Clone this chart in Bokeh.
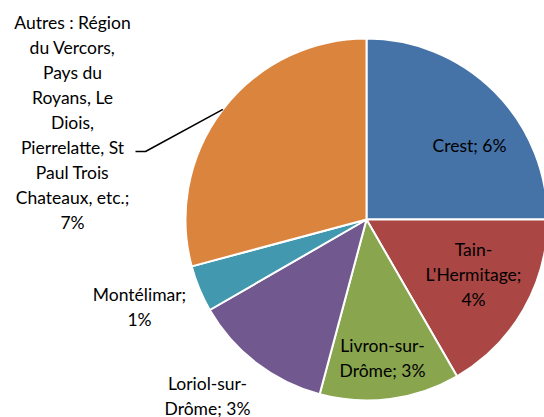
import math
from bokeh.plotting import figure
from bokeh.models import Range1d, ColumnDataSource
from bokeh.core.properties import value
from bokeh.embed import file_html
from bokeh.resources import INLINE

# ---- data ----
labels = ["Crest", "Tain-L'Hermitage", "Livron-sur-Drôme", "Loriol-sur-Drôme", "Montélimar",
          "Autres : Région du Vercors, Pays du Royans, Le Diois, Pierrelatte, St Paul Trois Chateaux, etc."]
values = [6, 4, 3, 3, 1, 7]
label_texts = [
    ["Crest; 6%"],
    ["Tain-", "L'Hermitage;", "4%"],
    ["Livron-sur-", "Drôme; 3%"],
    ["Loriol-sur-", "Drôme; 3%"],
    ["Montélimar;", "1%"],
    ["Autres : Région", "du Vercors,", "Pays du", "Royans, Le", "Diois,", "Pierrelatte, St",
     "Paul Trois", "Chateaux, etc.;", "7%"],
]
colors = ["#4572A7", "#AA4643", "#89A54E", "#71588F", "#4198AF", "#DB843D"]

# ---- layout (image pixel coordinates; y measured from top) ----
W, H = 544, 417
IMG_H = 417
CX, CY, R = 366, 219, 181
label_pos = [(469, 145), (473, 274), (382, 357.5), (207, 395), (139, 306), (72, 121.5)]
LINE_H = 25
FONT = "Lato"
FSIZE = "17.5px"

def fy(y):
    return IMG_H - y

p = figure(width=W, height=H, output_backend="svg", toolbar_location=None,
           x_range=Range1d(0, W), y_range=Range1d(IMG_H - H, IMG_H),
           min_border=0, outline_line_color=None)
p.axis.visible = False
p.grid.visible = False
p.background_fill_color = "white"

total = sum(values)
starts, ends = [], []
cum = 0
for v in values:
    starts.append(math.pi / 2 - cum / total * 2 * math.pi)
    cum += v
    ends.append(math.pi / 2 - cum / total * 2 * math.pi)

src = ColumnDataSource(dict(start=starts, end=ends, color=colors))
p.wedge(x=CX, y=fy(CY), radius=R, start_angle="start", end_angle="end", direction="clock",
        fill_color="color", line_color="white", line_width=2, source=src)

# leader line for "Autres"
mid = (starts[5] + ends[5]) / 2
ex, ey = CX + R * math.cos(mid), fy(CY) + R * math.sin(mid)
p.line(x=[135, 145, ex], y=[fy(151), fy(151), ey], line_color="black", line_width=1.5)

xs, ys, ts = [], [], []
for lines, (lx, ly) in zip(label_texts, label_pos):
    n = len(lines)
    for i, t in enumerate(lines):
        xs.append(lx)
        ys.append(fy(ly + (i - (n - 1) / 2) * LINE_H))
        ts.append(t)
p.text(x=xs, y=ys, text=ts, text_align="center", text_baseline="middle",
       text_font=value(FONT), text_font_size=FSIZE, text_color="black")

open("out.html", "w").write(file_html(p, INLINE))
